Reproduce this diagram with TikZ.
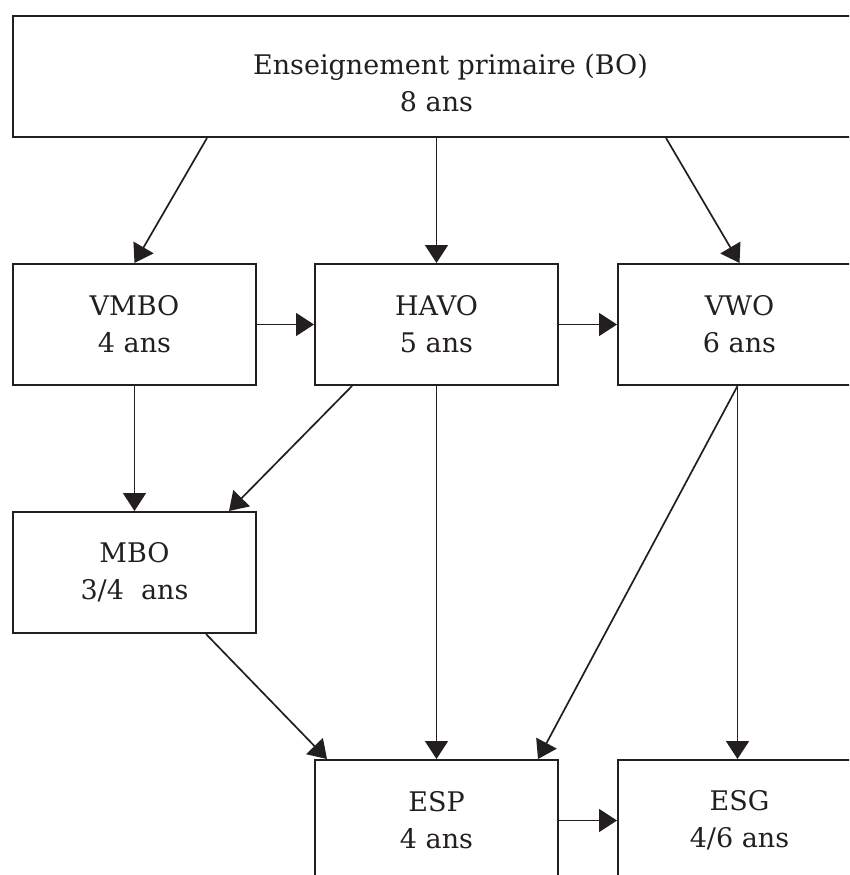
\documentclass[tikz,border=0pt]{standalone}
\usepackage{fontspec}
\setmainfont{DejaVu Serif}
\usetikzlibrary{arrows.meta}
\definecolor{linecol}{RGB}{35,31,32}
\tikzset{
  box/.style={draw=linecol, line width=2pt, rectangle, inner sep=0pt,
    minimum width=243pt, minimum height=121pt, align=center,
    font=\fontsize{27}{37}\selectfont, text=linecol},
  arr/.style={draw=linecol, line width=1.7pt, -{Triangle[length=18pt,width=23pt]}}
}
\begin{document}
\begin{tikzpicture}[x=1pt,y=-1pt]
\useasboundingbox (0,0) rectangle (849,875);
\clip (0,0) rectangle (849,875);
\fill[white] (0,0) rectangle (849,875);

\node[box, minimum width=847pt] (top) at (436.5,76.5) {\rule{0pt}{34pt}\hspace*{28pt}Enseignement primaire (BO)\\8 ans};
\node[box] (vmbo) at (134.5,324.5) {VMBO\\4 ans};
\node[box] (havo) at (436.5,324.5) {HAVO\\5 ans};
\node[box] (vwo) at (739.5,324.5) {VWO\\6 ans};
\node[box] (mbo) at (134.5,572.5) {MBO\\3/4\ \ ans};
\node[box] (esp) at (436.5,820.5) {ESP\\4 ans};
\node[box] (esg) at (739.5,820.5) {ESG\\4/6 ans};

\draw[arr] ([xshift=-229.5pt]top.south) -- (vmbo.north);
\draw[arr] (top.south) -- (havo.north);
\draw[arr] ([xshift=229.5pt]top.south) -- (vwo.north);
\draw[arr] (vmbo.east) -- (havo.west);
\draw[arr] (havo.east) -- (vwo.west);
\draw[arr] (vmbo.south) -- (mbo.north);
\draw[arr] ([xshift=-84.5pt]havo.south) -- ([xshift=-28pt]mbo.north east);
\draw[arr] (havo.south) -- (esp.north);
\draw[arr] ([xshift=-2pt]vwo.south) -- ([xshift=-21pt]esp.north east);
\draw[arr] ([xshift=-2pt]vwo.south) -- ([xshift=-2pt]esg.north);
\draw[arr] ([xshift=-51pt]mbo.south east) -- ([xshift=13pt]esp.north west);
\draw[arr] (esp.east) -- (esg.west);
\end{tikzpicture}
\end{document}
